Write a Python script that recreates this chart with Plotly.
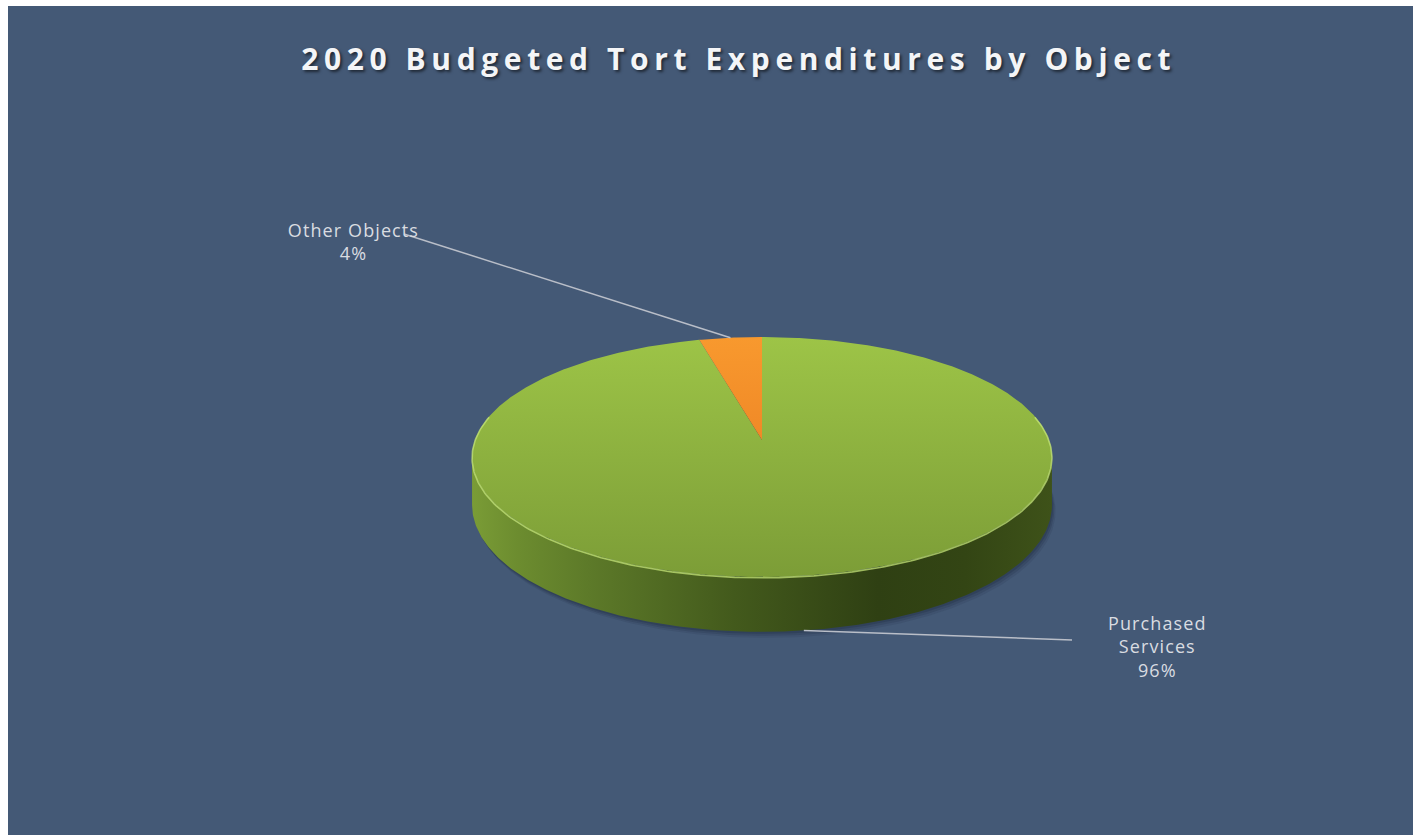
import numpy as np
import plotly.graph_objects as go

# ---- data -------------------------------------------------------------
categories = ["Purchased Services", "Other Objects"]
shares = [96, 4]  # percent of 2020 budgeted tort expenditures
label_text = ["Purchased<br>Services<br>96%", "Other Objects<br>4%"]
title_text = "2020 Budgeted Tort Expenditures by Object"

# ---- styling ----------------------------------------------------------
BG = "#445976"
LABEL_COLOR = "#d9dce1"
LEADER_COLOR = "#b9bec8"
top_scales = [
    [[0, "#9dc447"], [1, "#7c9d37"]],   # Purchased Services
    [[0, "#f8992e"], [1, "#e5731d"]],   # Other Objects
]
wall_scale = [
    [0.00, "#7a9c36"], [0.08, "#6c8c2f"], [0.20, "#5d7a29"],
    [0.45, "#435a1c"], [0.70, "#2f4013"], [0.85, "#334514"],
    [1.00, "#3e5219"],
]

# ---- 3-D pie projection -------------------------------------------------
W, H = 1413, 835
CX, CY = 762, 440        # apex of the pie on screen
SX, SY = 287, 117.6      # horizontal / vertical projection scales
K = 0.142                # perspective: far rim appears smaller
DEPTH = 47               # slab thickness before perspective


def project(theta, depth=0.0):
    """theta: clockwise angle from 12 o'clock (radians) on the unit disk."""
    X = np.sin(theta)
    Y = np.cos(theta)
    w = 1 + K * Y
    return CX + SX * X / w, CY - SY * Y / w + depth / w


fracs = np.array(shares, dtype=float) / np.sum(shares)
edges = np.concatenate([[0.0], np.cumsum(fracs)]) * 2 * np.pi

fig = go.Figure()

# soft shadow under the slab
th_full = np.linspace(0, 2 * np.pi, 361)
for off, alpha in [(6, 0.10), (4, 0.14), (2, 0.18)]:
    sx, sy = project(th_full, DEPTH)
    fig.add_trace(go.Scatter(
        x=sx + off * 0.6, y=sy + off, mode="lines", fill="toself",
        line=dict(width=0), fillcolor=f"rgba(15,25,45,{alpha})",
        hoverinfo="skip"))

# front wall (visible between the two silhouette points)
a = np.arccos(-K)
b = 2 * np.pi - a
th_wall = np.linspace(a, b, 240)
tx, ty = project(th_wall)
bx, by = project(th_wall[::-1], DEPTH)
wx = np.concatenate([tx, bx, tx[:1]])
wy = np.concatenate([ty, by, ty[:1]])
fig.add_trace(go.Scatter(
    x=wx, y=wy, mode="lines", fill="toself", line=dict(width=0),
    fillgradient=dict(type="horizontal", colorscale=wall_scale,
                      start=float(wx.min()), stop=float(wx.max())),
    hoverinfo="skip"))

# top faces of the slices
y_top = CY - SY / (1 + K)
y_bot = CY + SY / (1 - K)
for i, name in enumerate(categories):
    th = np.linspace(edges[i], edges[i + 1], max(int(720 * fracs[i]), 8))
    px, py = project(th)
    xs = np.concatenate([[CX], px, [CX]])
    ys = np.concatenate([[CY], py, [CY]])
    fig.add_trace(go.Scatter(
        x=xs, y=ys, mode="lines", fill="toself", line=dict(width=0),
        fillgradient=dict(type="vertical", colorscale=top_scales[i],
                          start=float(y_top), stop=float(y_bot)),
        name=name, hoverinfo="skip"))

# bevel highlight on the front rim of the top face
th_rim = np.linspace(a - 0.35, b + 0.35, 240)
rx, ry = project(th_rim)
fig.add_trace(go.Scatter(x=rx, y=ry + 0.8, mode="lines",
                         line=dict(color="rgba(196,228,120,0.75)", width=1.6),
                         hoverinfo="skip"))

# ---- data labels with leader lines ---------------------------------------
mids = (edges[:-1] + edges[1:]) / 2
label_pos = [(1157, 646), (353, 241)]
leader_end = [(1072, 640), (404, 234)]
for i in range(len(categories)):
    mx, my = project(mids[i], DEPTH if np.cos(mids[i]) < 0 else 0.0)
    ex, ey = leader_end[i]
    fig.add_trace(go.Scatter(x=[float(mx), ex], y=[float(my), ey], mode="lines",
                             line=dict(color=LEADER_COLOR, width=1.5),
                             hoverinfo="skip"))
    lx, ly = label_pos[i]
    fig.add_annotation(x=lx, y=ly, xref="x", yref="y", text=label_text[i],
                       showarrow=False, align="center",
                       font=dict(family="Open Sans", size=18, color=LABEL_COLOR))

# title
fig.add_annotation(x=738, y=58, xref="x", yref="y", text=title_text,
                   showarrow=False,
                   font=dict(family="Open Sans", size=30, color="#f4f5f7",
                             weight="bold",
                             shadow="2px 2px 3px rgba(0,0,0,0.55)"))

fig.update_layout(
    width=W, height=H,
    margin=dict(l=8, t=6, r=0, b=0),
    paper_bgcolor="white", plot_bgcolor=BG,
    showlegend=False, hovermode=False,
    xaxis=dict(range=[8, W], visible=False, fixedrange=True),
    yaxis=dict(range=[H, 6], visible=False, fixedrange=True),
)

# widen the tracking of the title and the data labels
spacing_js = """
var gd = document.getElementById('{plot_id}');
gd.querySelectorAll('.annotation-text').forEach(function (t) {
    var isTitle = t.textContent.indexOf('Budgeted') >= 0;
    t.style.letterSpacing = isTitle ? '5.6px' : '1.1px';
});
"""
fig.write_html("out.html", config={"displayModeBar": False},
               post_script=spacing_js)
